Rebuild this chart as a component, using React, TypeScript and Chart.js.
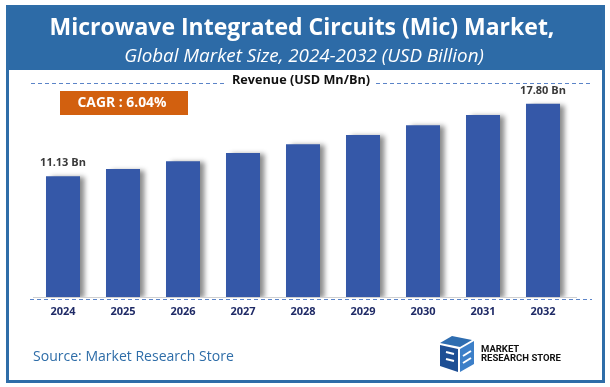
import React, { useEffect, useRef } from "react";
import { Chart, registerables } from "chart.js";

Chart.register(...registerables);

const years = ["2024", "2025", "2026", "2027", "2028", "2029", "2030", "2031", "2032"];
const revenue = [11.13, 11.8, 12.51, 13.27, 14.07, 14.92, 15.82, 16.77, 17.8];
const valueLabels = ["11.13 Bn", "", "", "", "", "", "", "", "17.80 Bn"];
const titleText = "Microwave Integrated Circuits (Mic) Market,";
const subtitleText = "Global Market Size, 2024-2032 (USD Billion)";
const axisTitle = "Revenue (USD Mn/Bn)";
const cagrText = "CAGR : 6.04%";
const sourceText = "Source: Market Research Store";

function fitFont(ctx: CanvasRenderingContext2D, text: string, style: string, family: string, width: number) {
  let size = 30;
  ctx.font = `${style} ${size}px ${family}`;
  const w = ctx.measureText(text).width;
  size = (size * width) / w;
  return `${style} ${size.toFixed(2)}px ${family}`;
}

const decor = {
  id: "decor",
  beforeDraw(chart: any) {
    const ctx = chart.ctx as CanvasRenderingContext2D;
    ctx.save();
    ctx.fillStyle = "#ffffff";
    ctx.fillRect(0, 0, chart.width, chart.height);
    ctx.fillStyle = "#2D6BA7";
    ctx.fillRect(7, 6, 597, 64);
    ctx.strokeStyle = "#2E6DA8";
    ctx.lineWidth = 3;
    ctx.strokeRect(7.5, 6.5, 596, 375);
    ctx.strokeStyle = "#5B84C8";
    ctx.lineWidth = 1;
    ctx.setLineDash([4, 3]);
    ctx.beginPath();
    ctx.moveTo(31, 83.5);
    ctx.lineTo(225, 83.5);
    ctx.moveTo(376, 83.5);
    ctx.lineTo(592, 83.5);
    ctx.moveTo(30, 299.5);
    ctx.lineTo(592, 299.5);
    ctx.stroke();
    ctx.setLineDash([]);
    ctx.restore();
  },
  beforeDatasetsDraw(chart: any) {
    const ctx = chart.ctx as CanvasRenderingContext2D;
    const ca = chart.chartArea;
    ctx.save();
    ctx.strokeStyle = "#D0D0D0";
    ctx.lineWidth = 1;
    ctx.beginPath();
    ctx.moveTo(ca.left, ca.bottom + 0.5);
    ctx.lineTo(ca.right + 4, ca.bottom + 0.5);
    ctx.stroke();
    ctx.restore();
    ctx.save();
    ctx.shadowColor = "rgba(0,0,0,0.45)";
    ctx.shadowOffsetX = 5;
    ctx.shadowOffsetY = 1;
    ctx.shadowBlur = 5;
  },
  afterDatasetsDraw(chart: any) {
    const ctx = chart.ctx as CanvasRenderingContext2D;
    ctx.restore();
    ctx.save();
    const meta = chart.getDatasetMeta(0);
    ctx.fillStyle = "#3A3A3A";
    ctx.font = "bold 11px 'Open Sans', sans-serif";
    ctx.textAlign = "center";
    ctx.textBaseline = "bottom";
    meta.data.forEach((bar: any, i: number) => {
      if (valueLabels[i]) ctx.fillText(valueLabels[i], bar.x, bar.y - 8);
    });
    ctx.restore();
  },
  afterDraw(chart: any) {
    const ctx = chart.ctx as CanvasRenderingContext2D;
    ctx.save();
    ctx.fillStyle = "#ffffff";
    ctx.textAlign = "center";
    ctx.textBaseline = "alphabetic";
    ctx.font = fitFont(ctx, titleText, "bold", "'Open Sans', sans-serif", 505);
    ctx.fillText(titleText, 302, 35);
    ctx.font = fitFont(ctx, subtitleText, "italic", "'Open Sans', sans-serif", 360);
    ctx.fillText(subtitleText, 304, 62);
    ctx.fillStyle = "#111111";
    ctx.font = fitFont(ctx, axisTitle, "bold", "'Open Sans', sans-serif", 138);
    ctx.fillText(axisTitle, 301, 84);
    ctx.fillStyle = "#D2600F";
    ctx.fillRect(60, 91, 128, 24);
    ctx.fillStyle = "#ffffff";
    ctx.font = fitFont(ctx, cagrText, "bold", "'Open Sans', sans-serif", 89);
    ctx.textBaseline = "middle";
    ctx.fillText(cagrText, 122, 103.5);
    ctx.textAlign = "left";
    ctx.fillStyle = "#2E6DA8";
    ctx.font = fitFont(ctx, sourceText, "normal", "'Open Sans', sans-serif", 201);
    ctx.fillText(sourceText, 33, 357);
    ctx.fillStyle = "#2E6DB0";
    ctx.beginPath();
    ctx.moveTo(440, 343); ctx.lineTo(452, 336); ctx.lineTo(472, 340); ctx.lineTo(460, 347); ctx.closePath();
    ctx.fill();
    ctx.fillStyle = "#1E4F94";
    ctx.beginPath();
    ctx.moveTo(440, 345); ctx.lineTo(458, 349); ctx.lineTo(458, 372); ctx.lineTo(440, 366); ctx.closePath();
    ctx.fill();
    ctx.fillStyle = "#3C7FC8";
    ctx.beginPath();
    ctx.moveTo(460, 349); ctx.lineTo(474, 341); ctx.lineTo(474, 364); ctx.lineTo(460, 372); ctx.closePath();
    ctx.fill();
    ctx.strokeStyle = "#ffffff";
    ctx.lineWidth = 2;
    ctx.beginPath();
    ctx.moveTo(446, 352); ctx.lineTo(454, 354);
    ctx.moveTo(446, 359); ctx.lineTo(454, 361);
    ctx.moveTo(463, 356); ctx.lineTo(471, 351);
    ctx.moveTo(463, 363); ctx.lineTo(471, 358);
    ctx.stroke();
    ctx.fillStyle = "#111111";
    ctx.font = "bold 9.5px 'Liberation Sans Narrow', 'Roboto', sans-serif";
    ctx.textBaseline = "alphabetic";
    ctx.fillText("MARKET", 481, 352);
    ctx.fillText("RESEARCH STORE", 481, 361);
    ctx.restore();
  },
};

export default function App() {
  const ref = useRef<HTMLCanvasElement>(null);
  useEffect(() => {
    if (!ref.current) return;
    const chart = new Chart(ref.current, {
      type: "bar",
      data: {
        labels: years,
        datasets: [
          {
            data: revenue,
            backgroundColor: "#3558A8",
            barPercentage: 0.567,
            categoryPercentage: 1,
          },
        ],
      },
      options: {
        animation: false,
        responsive: false,
        events: [],
        layout: { padding: { left: 33, right: 37, top: 80, bottom: 60 } },
        plugins: { legend: { display: false }, tooltip: { enabled: false }, title: { display: false } },
        scales: {
          x: {
            grid: { display: false, drawTicks: false },
            border: { display: false },
            ticks: { color: "#1F2A66", font: { family: "'Open Sans', sans-serif", weight: "bold", size: 11 }, padding: 8 },
            afterFit: (s: any) => { s.height = 30; },
          },
          y: { display: false, min: 0, max: 20 },
        },
      },
      plugins: [decor],
    });
    return () => chart.destroy();
  }, []);
  return (
    <div style={{ position: "fixed", left: 0, top: 0, width: 610, height: 387 }}>
      <canvas ref={ref} width={610} height={387} style={{ width: 610, height: 387, display: "block" }} />
    </div>
  );
}
